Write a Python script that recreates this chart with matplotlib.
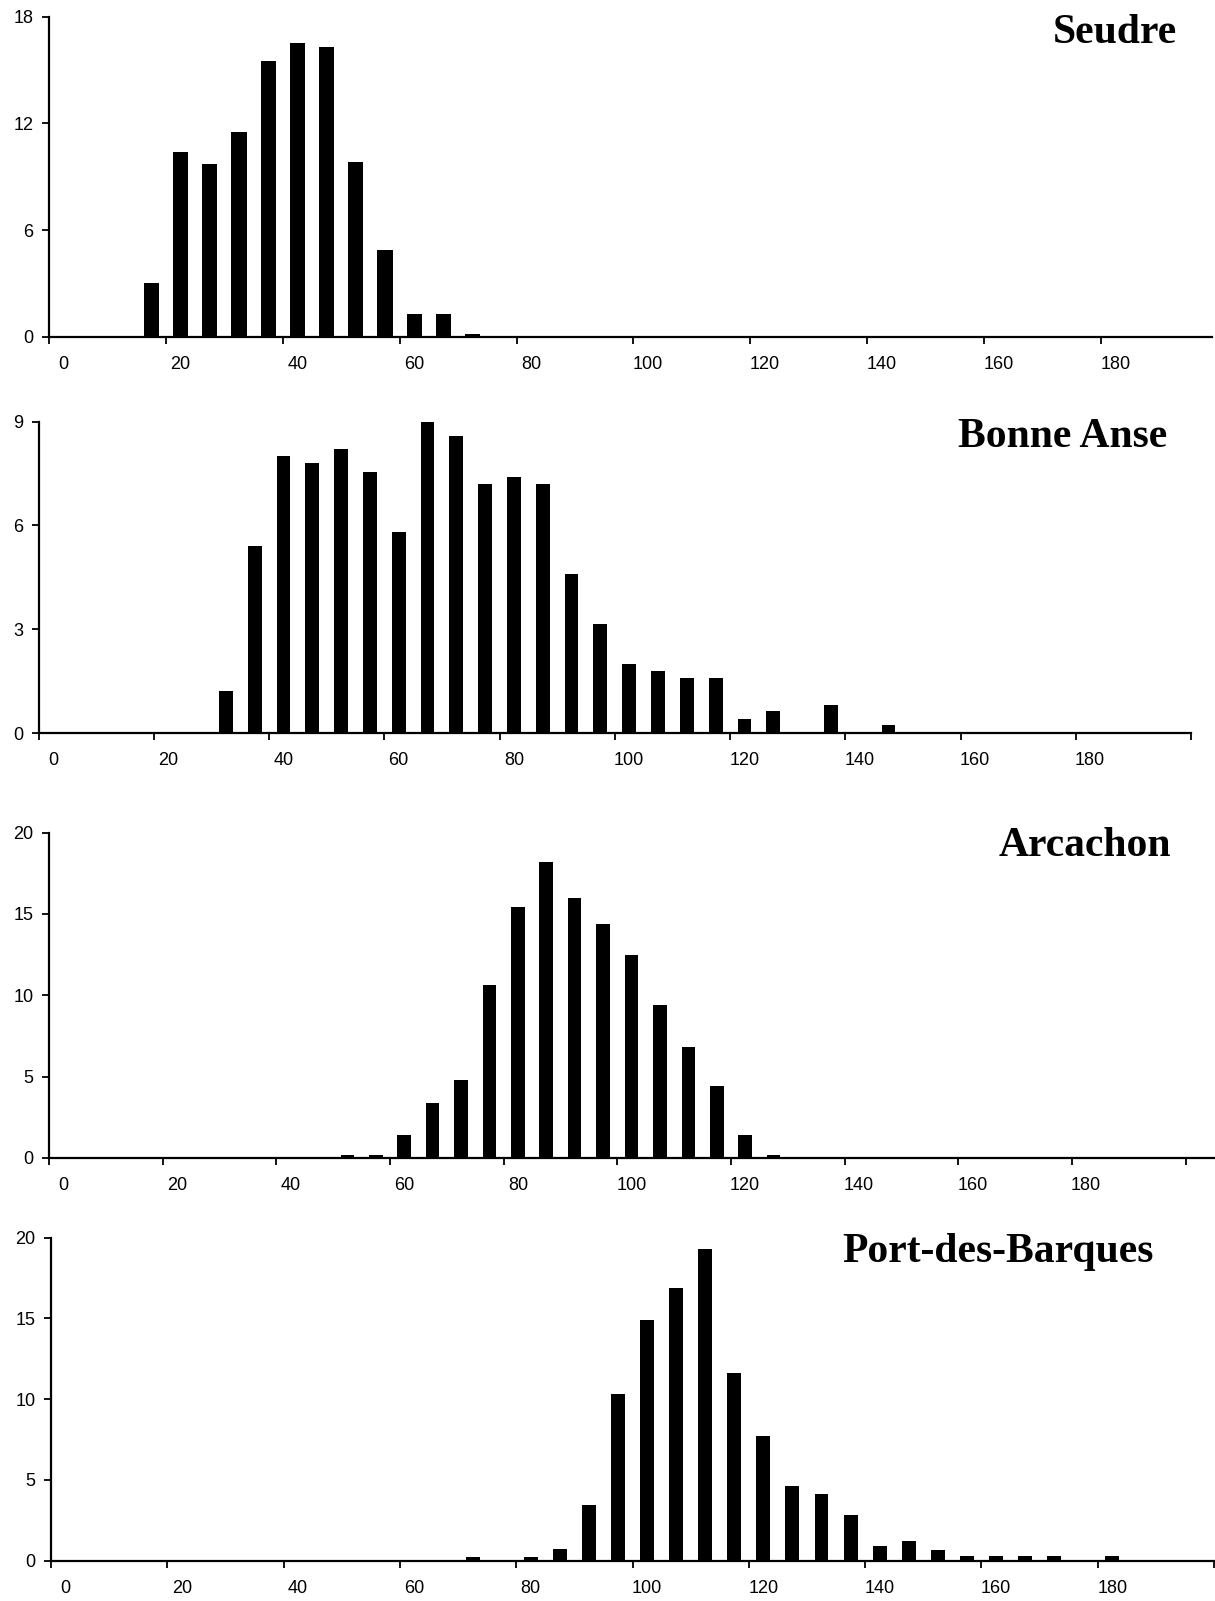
"""Length-frequency histograms for four sites (Seudre, Bonne Anse, Arcachon,
Port-des-Barques), stacked vertically, 5-unit size classes."""
import numpy as np
import matplotlib

matplotlib.use("Agg")
import matplotlib.pyplot as plt

plt.rcParams["font.family"] = ["Liberation Sans", "DejaVu Sans"]

BIN = 5  # class width

# lower bound of each size class and frequency (%)
seudre_bins = [15, 20, 25, 30, 35, 40, 45, 50, 55, 60, 65, 70]
seudre_freq = [3.0, 10.4, 9.7, 11.5, 15.5, 16.5, 16.3, 9.85, 4.85, 1.25, 1.25, 0.15]

bonne_bins = [30, 35, 40, 45, 50, 55, 60, 65, 70, 75, 80, 85, 90, 95,
              100, 105, 110, 115, 120, 125, 135, 145]
bonne_freq = [1.2, 5.4, 8.0, 7.8, 8.2, 7.55, 5.8, 9.0, 8.6, 7.2, 7.4, 7.2, 4.6, 3.15,
              2.0, 1.8, 1.6, 1.6, 0.4, 0.63, 0.8, 0.24]

arcachon_bins = [50, 55, 60, 65, 70, 75, 80, 85, 90, 95, 100, 105, 110, 115, 120, 125]
arcachon_freq = [0.2, 0.2, 1.4, 3.4, 4.8, 10.6, 15.4, 18.2, 16.0, 14.4, 12.45, 9.4,
                 6.8, 4.4, 1.4, 0.2]

pdb_bins = [70, 80, 85, 90, 95, 100, 105, 110, 115, 120, 125, 130, 135, 140, 145,
            150, 155, 160, 165, 170, 180]
pdb_freq = [0.2, 0.2, 0.7, 3.45, 10.3, 14.9, 16.9, 19.3, 11.6, 7.7, 4.6, 4.1, 2.8,
            0.87, 1.2, 0.68, 0.25, 0.25, 0.25, 0.25, 0.25]

X_LABELS = [0, 20, 40, 60, 80, 100, 120, 140, 160, 180]

W, H = 1215, 1601

# name, bins, freq, yticks, xmax, axes box in pixels (left, top, right, bottom),
# title right edge / baseline in pixels, bar width
PANELS = [
    ("Seudre", seudre_bins, seudre_freq, [0, 6, 12, 18], 199,
     (49, 16.7, 1212, 336.7), (1177, 43), 2.6),
    ("Bonne Anse", bonne_bins, bonne_freq, [0, 3, 6, 9], 200,
     (38.6, 421.7, 1191, 733), (1167, 447), 2.4),
    ("Arcachon", arcachon_bins, arcachon_freq, [0, 5, 10, 15, 20], 205,
     (49, 832.5, 1214, 1158), (1171, 856), 2.4),
    ("Port-des-Barques", pdb_bins, pdb_freq, [0, 5, 10, 15, 20], 200,
     (51, 1237.5, 1214, 1560.5), (1154, 1262), 2.4),
]

fig = plt.figure(figsize=(W / 100, H / 100), dpi=100)

for name, bins, freq, yticks, xmax, box, tpos, bw in PANELS:
    l, t, r, b = box
    ax = fig.add_axes([l / W, 1 - b / H, (r - l) / W, (b - t) / H])
    centers = np.array(bins) + BIN / 2
    ax.bar(centers, freq, width=bw, color="black", edgecolor="black", linewidth=0)

    ax.set_xlim(0, xmax)
    ax.set_ylim(0, yticks[-1])
    ax.set_yticks(yticks)
    # major ticks mark the class limits, labels sit on the class centre
    ax.set_xticks(np.arange(0, xmax + 1, 20), labels=[])
    ax.set_xticks(np.array(X_LABELS) + BIN / 2, labels=[str(v) for v in X_LABELS],
                  minor=True)
    ax.tick_params(axis="x", which="major", direction="out", length=5, width=1.3)
    ax.tick_params(axis="x", which="minor", length=0, pad=14, labelsize=13)
    ax.tick_params(axis="y", direction="out", length=5, width=1.3, labelsize=13,
                   pad=6)

    for sp in ("top", "right"):
        ax.spines[sp].set_visible(False)
    for sp in ("left", "bottom"):
        ax.spines[sp].set_linewidth(1.6)
    ax.patch.set_visible(False)

    fig.text(tpos[0] / W, 1 - tpos[1] / H, name, ha="right", va="baseline",
             fontsize=30, fontweight="bold", family=["Liberation Serif", "DejaVu Serif"])

fig.savefig("out.png", dpi=100)
